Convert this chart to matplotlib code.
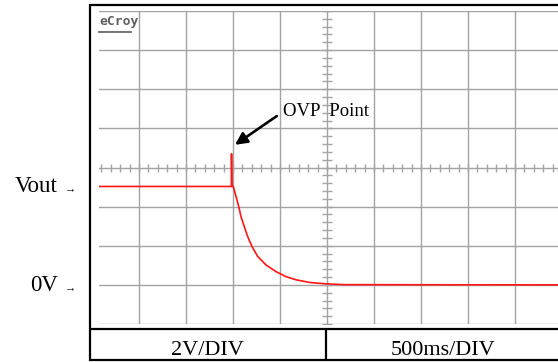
import matplotlib
matplotlib.use("Agg")
import matplotlib.pyplot as plt
import numpy as np

# Scope capture: output voltage during an over-voltage trip
VOLTS_PER_DIV = 2.0
SEC_PER_DIV = 0.5

# Trace samples (time in s relative to screen centre, voltage in V)
trace_t = [-2.43, -1.016, -1.016, -1.013, -0.997, -0.968, -0.939, -0.915,
           -0.880, -0.844, -0.798, -0.737, -0.649, -0.543, -0.436, -0.330,
           -0.181, -0.003, 0.19, 2.46]
trace_v = [5.03, 5.03, 6.70, 5.03, 5.03, 4.52, 4.00, 3.49,
           2.98, 2.47, 1.96, 1.45, 1.02, 0.68, 0.42, 0.26,
           0.12, 0.05, 0.01, 0.0]

ovp_t = -0.979
ovp_v = 7.16

level_labels = ["Vout", "0V"]
level_values = [5.03, 0.0]
footer_labels = ["2V/DIV", "500ms/DIV"]

W, H = 558, 362
fig = plt.figure(figsize=(W / 100, H / 100), dpi=100)
serif = ["Liberation Serif", "DejaVu Serif"]

# Screen frame drawn in pixel space
bg = fig.add_axes([0, 0, 1, 1])
bg.set_xlim(0, W)
bg.set_ylim(H, 0)
bg.axis("off")
frame_kw = dict(color="black", lw=1.6, solid_capstyle="butt")
bg.plot([89.5, 89.5], [3.5, 360.5], **frame_kw)
bg.plot([88.7, W], [4.5, 4.5], **frame_kw)
bg.plot([88.7, W], [328.8, 328.8], **frame_kw)
bg.plot([88.7, W], [359.5, 359.5], **frame_kw)
bg.plot([326, 326], [328.8, 359.5], **frame_kw)
bg.text(207, 355, footer_labels[0], fontsize=16, family=serif,
        ha="center", va="baseline")
bg.text(443, 355, footer_labels[1], fontsize=16, family=serif,
        ha="center", va="baseline")

# Graticule axes
left_px, right_px, top_px, bot_px = 99, 558, 11, 324
ax = fig.add_axes([left_px / W, (H - bot_px) / H,
                   (right_px - left_px) / W, (bot_px - top_px) / H])
ax.set_xlim(-2.4255, 2.457)
ax.set_ylim(-2, 14)
ax.axis("off")

grid_kw = dict(color="#a3a3a3", lw=1.0, zorder=1)
for k in range(-4, 5):
    ax.axvline(k * SEC_PER_DIV, **grid_kw)
for k in range(-1, 8):
    ax.axhline(k * VOLTS_PER_DIV, **grid_kw)

# Minor ticks along the centre cross
centre_v = 3 * VOLTS_PER_DIV
htick_t = np.arange(-24, 25) * SEC_PER_DIV / 5
ax.plot(htick_t, np.full_like(htick_t, centre_v), ls="none", marker="|",
        ms=5.2, mew=1.0, color="#a3a3a3", zorder=1)
vtick_v = np.arange(-5, 36) * VOLTS_PER_DIV / 5
ax.plot(np.zeros_like(vtick_v), vtick_v, ls="none", marker="_",
        ms=7.4, mew=1.0, color="#a3a3a3", zorder=1)

# Trace
ax.plot(trace_t, trace_v, color="#ff1515", lw=1.2, zorder=3,
        solid_joinstyle="round")

# OVP annotation
ax.annotate("OVP  Point", xy=(ovp_t, ovp_v), xytext=(-0.468, 8.85),
            fontsize=13.5, family=serif, ha="left", va="center", zorder=4,
            arrowprops=dict(arrowstyle="-|>", color="black", lw=1.9,
                            mutation_scale=18, shrinkA=3, shrinkB=0,
                            relpos=(0, 0.5)))

# Scope logo
ax.text(0.0, 0.988, "eCroy", transform=ax.transAxes, fontsize=9.4,
        family="DejaVu Sans Mono", fontweight="bold", color="#5f5f5f",
        ha="left", va="top", zorder=4)
bg.plot([99, 131], [31.7, 31.7], color="#6a6a6a", lw=1.3)

# Level markers on the left
for lab, val in zip(level_labels, level_values):
    y_px = H - ax.transData.transform((0, val))[1]
    bg.text(58, y_px + 6, lab, fontsize=16.5, family=serif,
            ha="right", va="baseline")
    bg.text(70.5, y_px + 2.5, "\u2192", fontsize=8, family=serif,
            ha="center", va="center")

fig.savefig("out.png", dpi=100)
